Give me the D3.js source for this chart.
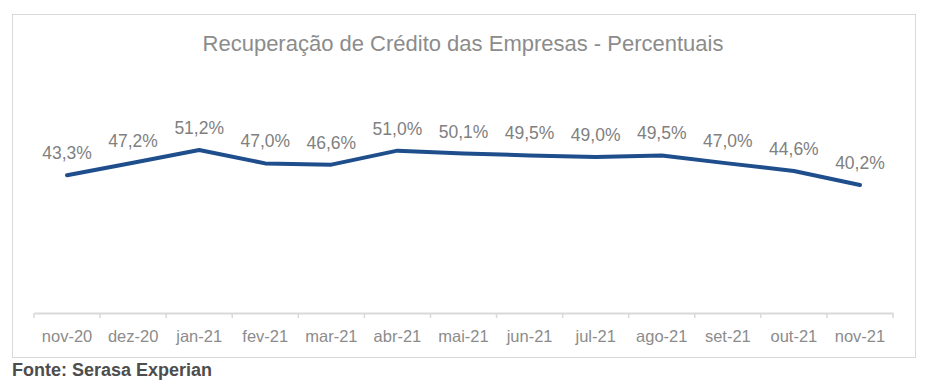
<!DOCTYPE html>
<html>
<head>
<meta charset="utf-8">
<script src="https://cdn.jsdelivr.net/npm/d3@7"></script>
<style>
  body { margin: 0; background: #fff; }
  svg text { font-family: Arial, "Liberation Sans", sans-serif; }
</style>
</head>
<body>
<div id="chart"></div>
<script>
var months = ['nov-20', 'dez-20', 'jan-21', 'fev-21', 'mar-21', 'abr-21', 'mai-21',
              'jun-21', 'jul-21', 'ago-21', 'set-21', 'out-21', 'nov-21'];
var values = [43.3, 47.2, 51.2, 47.0, 46.6, 51.0, 50.1, 49.5, 49.0, 49.5, 47.0, 44.6, 40.2];
var labels = ['43,3%', '47,2%', '51,2%', '47,0%', '46,6%', '51,0%', '50,1%',
              '49,5%', '49,0%', '49,5%', '47,0%', '44,6%', '40,2%'];

var width = 934, height = 386;

var svg = d3.select('#chart').append('svg')
    .attr('width', width)
    .attr('height', height);

// chart frame
svg.append('rect')
    .attr('x', 12.5).attr('y', 14.5)
    .attr('width', 903).attr('height', 343)
    .attr('fill', '#fff')
    .attr('stroke', '#d9d9d9');

svg.append('text')
    .attr('x', 463).attr('y', 51)
    .attr('text-anchor', 'middle')
    .attr('font-size', '22px')
    .attr('fill', '#8c8c8c')
    .text('Recuperação de Crédito das Empresas - Percentuais');

var x = d3.scaleBand().domain(months).range([34, 893]);
var y = d3.scaleLinear().domain([0, 60]).range([313, 122]);

// x axis
var axis = svg.append('g')
    .attr('transform', 'translate(0,313)')
    .call(d3.axisBottom(x).tickSize(0).tickPadding(17));
axis.select('.domain').attr('stroke', '#d9d9d9').attr('stroke-width', 2);
axis.selectAll('text')
    .attr('font-size', '16.5px')
    .attr('fill', '#8c8c8c')
    .attr('font-family', 'Arial, "Liberation Sans", sans-serif');

// category boundary ticks
var bounds = months.map(function(m) { return x(m); }).concat([x.range()[1]]);
svg.append('g').selectAll('line')
    .data(bounds)
    .enter().append('line')
    .attr('x1', function(d) { return d; })
    .attr('x2', function(d) { return d; })
    .attr('y1', 313).attr('y2', 318)
    .attr('stroke', '#d9d9d9')
    .attr('stroke-width', 1.5);

var line = d3.line()
    .x(function(d, i) { return x(months[i]) + x.bandwidth() / 2; })
    .y(function(d) { return y(d); });

svg.append('path')
    .datum(values)
    .attr('d', line)
    .attr('fill', 'none')
    .attr('stroke', '#1f4e8c')
    .attr('stroke-width', 4)
    .attr('stroke-linejoin', 'round')
    .attr('stroke-linecap', 'round');

svg.append('g').selectAll('text')
    .data(values)
    .enter().append('text')
    .attr('x', function(d, i) { return x(months[i]) + x.bandwidth() / 2; })
    .attr('y', function(d) { return y(d) - 16; })
    .attr('text-anchor', 'middle')
    .attr('font-size', '17.5px')
    .attr('fill', '#808080')
    .text(function(d, i) { return labels[i]; });

svg.append('text')
    .attr('x', 12).attr('y', 376)
    .attr('font-size', '18px')
    .attr('font-weight', 'bold')
    .attr('fill', '#4d4d4d')
    .text('Fonte: Serasa Experian');
</script>
</body>
</html>
